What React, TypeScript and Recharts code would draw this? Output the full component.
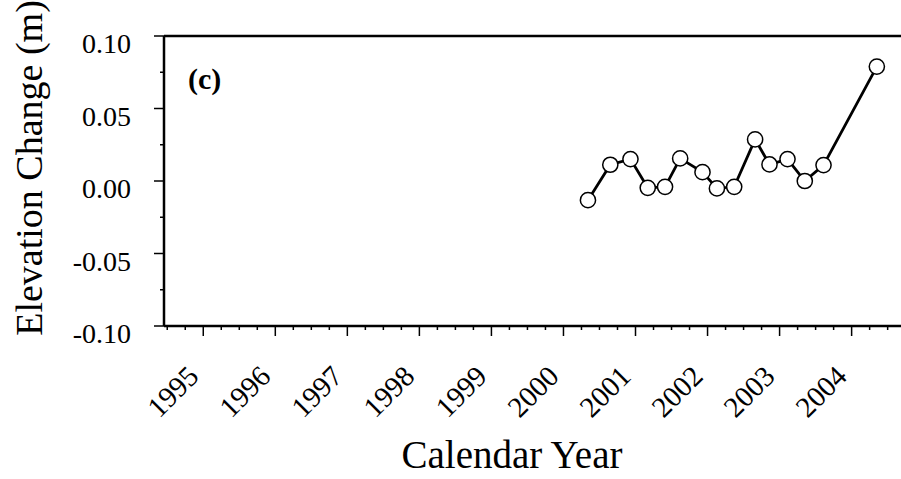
import { LineChart, Line, XAxis, YAxis, ReferenceLine } from 'recharts';

// survey dates (decimal year) and elevation change (m)
const surveyYears = [
    2000.34, 2000.65, 2000.93, 2001.17, 2001.41, 2001.62, 2001.93, 2002.13,
    2002.37, 2002.66, 2002.86, 2003.11, 2003.35, 2003.61, 2004.35,
];
const elevationChange = [
    -0.0132, 0.0112, 0.0151, -0.0047, -0.004, 0.0156, 0.0061, -0.0051,
    -0.004, 0.0287, 0.0114, 0.0151, 0.0, 0.011, 0.0789,
];

const xMajorTicks = [1995, 1996, 1997, 1998, 1999, 2000, 2001, 2002, 2003, 2004];
const xTickLabels = ['1995', '1996', '1997', '1998', '1999', '2000', '2001', '2002', '2003', '2004'];
const yMajorTicks = [-0.1, -0.05, 0, 0.05, 0.1];
const yTickLabels = ['-0.10', '-0.05', '0.00', '0.05', '0.10'];
const yMinorTicks = [-0.075, -0.025, 0.025, 0.075];

const panelLabel = '(c)';
const xTitle = 'Calendar Year';
const yTitle = 'Elevation Change (m)';

const data = surveyYears.map((year, i) => ({ year, value: elevationChange[i] }));

// quarter-year minor ticks around each labelled year
const xMinorTicks = [1994, ...xMajorTicks].flatMap((y) => [y + 0.5, y + 0.75]).concat(
    xMajorTicks.map((y) => y + 0.25)
);
const xTicks = [...xMajorTicks, ...xMinorTicks].sort((a, b) => a - b);
const yTicks = [...yMajorTicks, ...yMinorTicks].sort((a, b) => a - b);

const FONT = '"Liberation Serif", "Times New Roman", serif';

const near = (a: number, b: number) => Math.abs(a - b) < 1e-6;

const XTick = ({ x, y, payload }: any) => {
    const idx = xMajorTicks.findIndex((t) => near(t, payload.value));
    const major = idx >= 0;
    return (
        <g>
            <line x1={x} x2={x} y1={y} y2={y + (major ? 10 : 4)} stroke="#000" strokeWidth={1.5} />
            {major && (
                <text
                    x={x - 3}
                    y={y + 52}
                    textAnchor="end"
                    transform={`rotate(-45 ${x - 3} ${y + 52})`}
                    fontFamily={FONT}
                    fontSize={29}
                    fill="#000"
                >
                    {xTickLabels[idx]}
                </text>
            )}
        </g>
    );
};

const YTick = ({ x, y, payload }: any) => {
    const idx = yMajorTicks.findIndex((t) => near(t, payload.value));
    const major = idx >= 0;
    return (
        <g>
            <line x1={x} x2={x - (major ? 10 : 4)} y1={y} y2={y} stroke="#000" strokeWidth={1.5} />
            {major && (
                <text x={x - 33} y={y + 17} textAnchor="end" fontFamily={FONT} fontSize={28} fill="#000">
                    {yTickLabels[idx]}
                </text>
            )}
        </g>
    );
};

export default function App() {
    return (
        <div
            style={{
                position: 'absolute',
                left: 0,
                top: 0,
                width: 901,
                height: 479,
                overflow: 'hidden',
                background: '#fff',
            }}
        >
            <LineChart
                width={904}
                height={479}
                data={data}
                margin={{ top: 36, right: 0, left: 64, bottom: 53 }}
            >
                <XAxis
                    dataKey="year"
                    type="number"
                    domain={[1994.455, 2004.727]}
                    allowDataOverflow
                    ticks={xTicks}
                    interval={0}
                    tick={<XTick />}
                    tickLine={false}
                    tickSize={0}
                    tickMargin={0}
                    height={100}
                    axisLine={{ stroke: '#000', strokeWidth: 2.5 }}
                />
                <YAxis
                    type="number"
                    domain={[-0.1, 0.1]}
                    ticks={yTicks}
                    interval={0}
                    tick={<YTick />}
                    tickLine={false}
                    tickSize={0}
                    tickMargin={0}
                    width={100}
                    axisLine={{ stroke: '#000', strokeWidth: 2.5 }}
                />
                <ReferenceLine y={0.1} stroke="#000" strokeWidth={2.5} />
                <Line
                    type="linear"
                    dataKey="value"
                    stroke="#000"
                    strokeWidth={2.8}
                    dot={{ r: 7.6, fill: '#fff', stroke: '#000', strokeWidth: 1.5 }}
                    activeDot={false}
                    isAnimationActive={false}
                />
                <text x={188} y={89} fontFamily={FONT} fontSize={30} fontWeight="bold" fill="#000">
                    {panelLabel}
                </text>
                <text x={512} y={468} textAnchor="middle" fontFamily={FONT} fontSize={39} fill="#000">
                    {xTitle}
                </text>
                <text
                    x={42}
                    y={168}
                    textAnchor="middle"
                    transform="rotate(-90 42 168)"
                    fontFamily={FONT}
                    fontSize={38}
                    fill="#000"
                >
                    {yTitle}
                </text>
            </LineChart>
        </div>
    );
}
